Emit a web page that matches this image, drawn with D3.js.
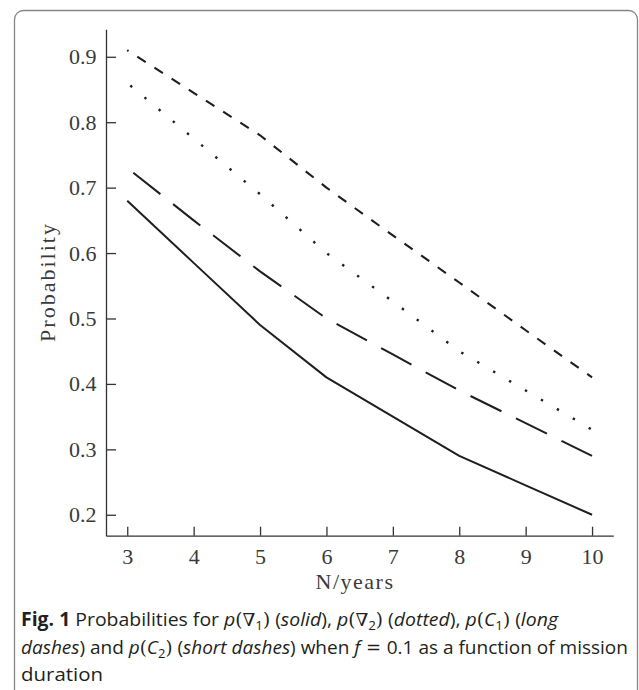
<!DOCTYPE html>
<html>
<head>
<meta charset="utf-8">
<script src="https://cdn.jsdelivr.net/npm/d3@7"></script>
<style>
  html, body { margin: 0; padding: 0; background: #fff; }
  svg { display: block; }
</style>
</head>
<body>
<svg id="chart" width="639" height="690"></svg>
<script>
// ---- data ----
const years   = [3, 4, 5, 6, 7, 8, 9, 10];
const pNabla1 = [0.68, 0.585, 0.49, 0.41, 0.35, 0.29, 0.245, 0.20];   // solid
const pNabla2 = [0.86, 0.775, 0.69, 0.60, 0.526, 0.45, 0.39, 0.33];   // dotted
const pC1     = [0.73, 0.65, 0.572, 0.50, 0.445, 0.39, 0.34, 0.29];   // long dashes
const pC2     = [0.91, 0.845, 0.78, 0.70, 0.627, 0.555, 0.482, 0.41]; // short dashes
const xTicks  = [3, 4, 5, 6, 7, 8, 9, 10];
const yTicks  = [0.2, 0.3, 0.4, 0.5, 0.6, 0.7, 0.8, 0.9];
const xTitle  = "N/years";
const yTitle  = "Probability";

const svg = d3.select("#chart");
const ink = "#231f20";

// frame
svg.append("rect")
  .attr("x", 14.5).attr("y", 10.5)
  .attr("width", 623).attr("height", 740)
  .attr("rx", 9).attr("ry", 9)
  .attr("fill", "none").attr("stroke", "#858585").attr("stroke-width", 1.3);

const x = d3.scaleLinear().domain([2.68, 10.32]).range([106, 613.3]);
const y = d3.scaleLinear().domain([0.168, 0.942]).range([535.7, 29.3]);

const serif = "'Liberation Serif', 'Times New Roman', serif";

// axes
const gx = svg.append("g").attr("transform", `translate(0,${y.range()[0]})`)
  .call(d3.axisBottom(x).tickValues(xTicks).tickSizeInner(-9).tickSizeOuter(0).tickPadding(13)
        .tickFormat(d3.format("d")));
const gy = svg.append("g").attr("transform", `translate(${x.range()[0]},0)`)
  .call(d3.axisLeft(y).tickValues(yTicks).tickSizeInner(-10).tickSizeOuter(0).tickPadding(9.5)
        .tickFormat(d3.format(".1f")));
[gx, gy].forEach(g => {
  g.selectAll(".domain, .tick line").attr("stroke", "#333").attr("stroke-width", 1.3);
  g.selectAll(".tick text").attr("font-family", serif).attr("font-size", 22).attr("fill", "#3a3a3a");
});

// axis titles
svg.append("text")
  .attr("transform", "translate(47,282) rotate(-90)")
  .attr("text-anchor", "middle").attr("dominant-baseline", "central")
  .attr("font-family", serif).attr("font-size", 22).attr("letter-spacing", 2)
  .attr("fill", "#3a3a3a").text(yTitle);
svg.append("text")
  .attr("x", 355).attr("y", 589)
  .attr("text-anchor", "middle")
  .attr("font-family", serif).attr("font-size", 22).attr("letter-spacing", 1.5)
  .attr("fill", "#3a3a3a").text(xTitle);

// series
const series = [
  { vals: pNabla1, dash: null,         off: 0,    w: 2 },
  { vals: pNabla2, dash: "2.4,16.1",   off: 14.5, w: 2.4 },
  { vals: pC1,     dash: "34.5,16.2",  off: 43,   w: 2 },
  { vals: pC2,     dash: "10,10.4",    off: 8.5,  w: 2.1 }
];
const line = d3.line().x(d => x(d[0])).y(d => y(d[1]));
series.forEach(s => {
  const p = svg.append("path")
    .datum(years.map((yr, i) => [yr, s.vals[i]]))
    .attr("d", line)
    .attr("fill", "none").attr("stroke", "#1e1e1e").attr("stroke-width", s.w)
    .attr("stroke-linejoin", "round");
  if (s.dash) p.attr("stroke-dasharray", s.dash).attr("stroke-dashoffset", s.off);
});

// caption
const sans = "'Open Sans', 'Noto Sans', sans-serif";
const mathF = "'DejaVu Serif', serif";
const capLines = [
  { y: 626, w: 537, segs: [
    {t: "Fig. 1", b: 1}, {t: " Probabilities for "}, {t: "p", i: 1}, {t: "(∇", m: 1}, {t: "1", sub: 1}, {t: ")", m: 1},
    {t: " ("}, {t: "solid", i: 1}, {t: "), "}, {t: "p", i: 1}, {t: "(∇", m: 1}, {t: "2", sub: 1}, {t: ")", m: 1},
    {t: " ("}, {t: "dotted", i: 1}, {t: "), "}, {t: "p", i: 1}, {t: "(", m: 1}, {t: "C", i: 1}, {t: "1", sub: 1},
    {t: ")", m: 1}, {t: " ("}, {t: "long", i: 1}
  ]},
  { y: 653.5, w: 601, segs: [
    {t: "dashes", i: 1}, {t: ") and "}, {t: "p", i: 1}, {t: "(", m: 1}, {t: "C", i: 1}, {t: "2", sub: 1}, {t: ")", m: 1},
    {t: " ("}, {t: "short dashes", i: 1}, {t: ") when "}, {t: "f", i: 1}, {t: " = ", m: 1}, {t: "0.1 as a function of mission"}
  ]},
  { y: 681, w: 82, segs: [ {t: "duration"} ] }
];
capLines.forEach(L => {
  const txt = svg.append("text").attr("x", 21).attr("y", L.y)
    .attr("font-family", sans).attr("font-size", 19).attr("fill", ink)
    .attr("xml:space", "preserve");
  let shifted = false;
  L.segs.forEach(s => {
    const ts = txt.append("tspan").text(s.t);
    if (s.b) ts.attr("font-weight", "bold");
    if (s.i) ts.attr("font-style", "italic");
    if (s.m) ts.attr("font-family", mathF).attr("font-size", 18);
    if (s.sub) { ts.attr("font-size", 13).attr("dy", 4); shifted = true; }
    else if (shifted) { ts.attr("dy", -4); shifted = false; }
  });
  const natural = txt.node().getComputedTextLength();
  if (Math.abs(natural - L.w) / L.w > 0.01) {
    txt.attr("textLength", L.w).attr("lengthAdjust", "spacingAndGlyphs");
  }
});
</script>
</body>
</html>
